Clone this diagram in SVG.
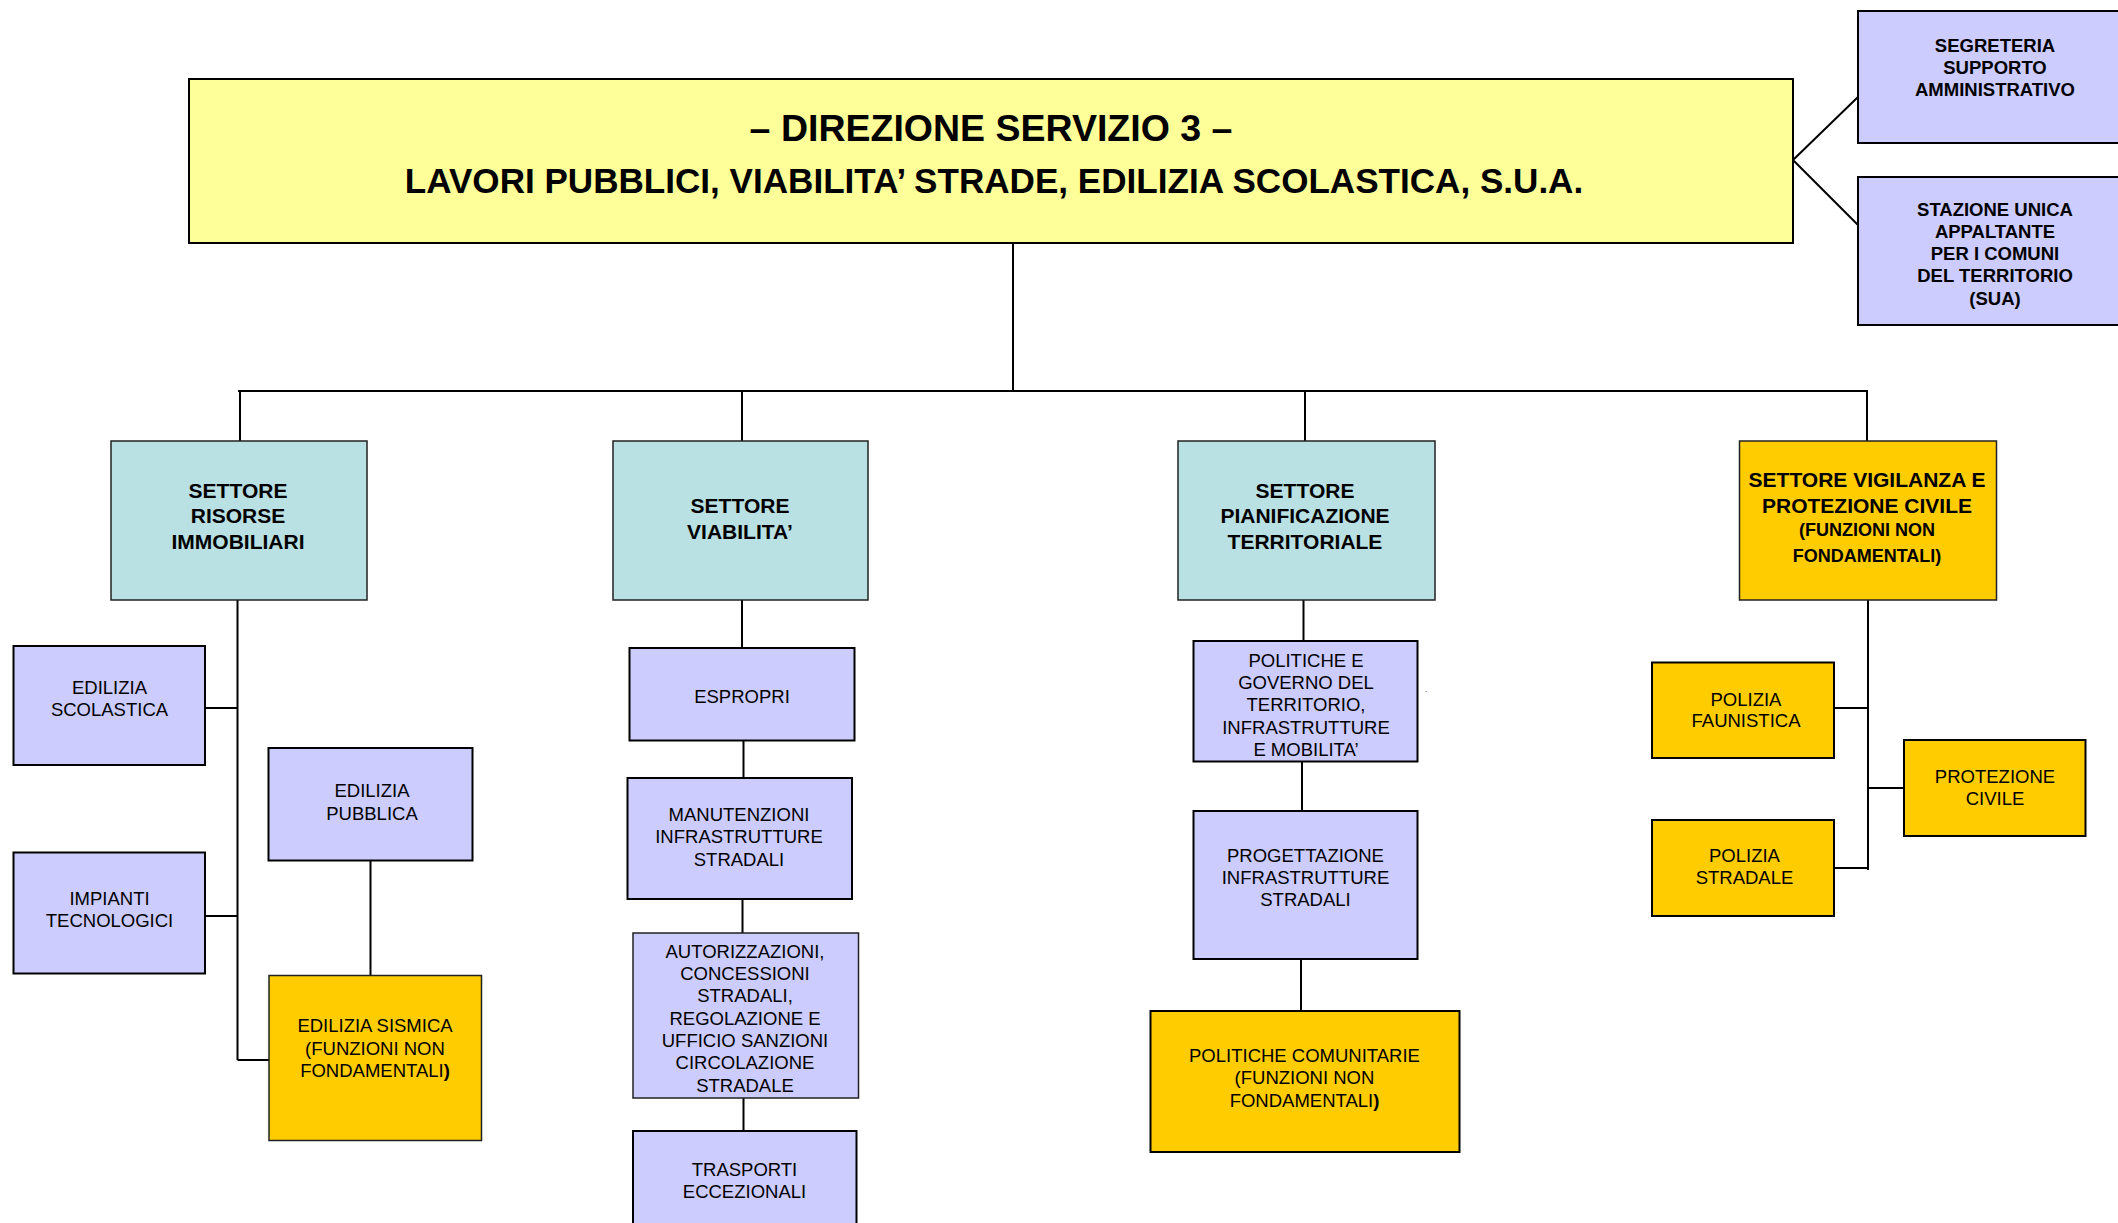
<svg xmlns="http://www.w3.org/2000/svg" width="2118" height="1223" viewBox="0 0 2118 1223">
<style>
.box{stroke:#000;stroke-width:2}
.sec{stroke:#222;stroke-width:1.5}
.y{fill:#FFFF99}
.l{fill:#CCCCFF}
.t{fill:#B9E0E3}
.o{fill:#FFCC00}
text{font-family:"Liberation Sans",Arial,sans-serif;fill:#000;text-anchor:middle}
.b{font-weight:bold}
.s{font-size:18.5px}
.m{font-size:21px;font-weight:bold}
.c{stroke:#000;stroke-width:2;fill:none}
</style>
<rect width="2118" height="1223" fill="#fff"/>
<g id="connectors">
<path class="c" d="M1013 243V391M238 391H1868M240 391V441M742 391V441M1305 391V441M1867 391V441"/>
<path class="c" d="M1793 160L1858 97M1793 160L1858 225"/>
<path class="c" d="M237.5 600V1060M205 708H237.5M205 916H237.5M237.5 1060H269M370.5 861V976"/>
<path class="c" d="M742 600V648M743.5 741V778M742.5 899V933M743.5 1098V1131"/>
<path class="c" d="M1303.5 600V641M1302 761V811M1301 959V1011"/>
<path class="c" d="M1868 600V870M1834 708H1868M1834 868H1868M1868 788H1904"/>
</g>
<g id="main">
<rect class="box y" x="189" y="79" width="1604" height="164" stroke-width="2"/>
<text class="b" x="991" y="140.5" font-size="37.5">– DIREZIONE SERVIZIO 3 –</text>
<text class="b" x="994" y="193" font-size="35.1">LAVORI PUBBLICI, VIABILITA’ STRADE, EDILIZIA SCOLASTICA, S.U.A.</text>
</g>
<g id="segreteria">
<rect class="box l" x="1858" y="11" width="262" height="132"/>
<text class="b" font-size="18.5" x="1995" y="52">SEGRETERIA</text>
<text class="b" font-size="18.5" x="1995" y="74">SUPPORTO</text>
<text class="b" font-size="18.5" x="1995" y="96">AMMINISTRATIVO</text>
</g>
<g id="sua">
<rect class="box l" x="1858" y="177" width="262" height="148"/>
<text class="b" font-size="18.5" x="1995" y="215.5">STAZIONE UNICA</text>
<text class="b" font-size="18.5" x="1995" y="237.5">APPALTANTE</text>
<text class="b" font-size="18.5" x="1995" y="260">PER I COMUNI</text>
<text class="b" font-size="18.5" x="1995" y="282">DEL TERRITORIO</text>
<text class="b" font-size="18.5" x="1995" y="304.5">(SUA)</text>
</g>
<g id="settore-risorse">
<rect class="sec t" x="111" y="441" width="256" height="159"/>
<text class="m" x="238" y="497.5">SETTORE</text>
<text class="m" x="238" y="523">RISORSE</text>
<text class="m" x="238" y="548.5">IMMOBILIARI</text>
</g>
<g id="settore-viabilita">
<rect class="sec t" x="613" y="441" width="255" height="159"/>
<text class="m" x="740" y="513">SETTORE</text>
<text class="m" x="740" y="538.5">VIABILITA’</text>
</g>
<g id="settore-pianificazione">
<rect class="sec t" x="1178" y="441" width="257" height="159"/>
<text class="m" x="1305" y="497.5">SETTORE</text>
<text class="m" x="1305" y="523">PIANIFICAZIONE</text>
<text class="m" x="1305" y="548.5">TERRITORIALE</text>
</g>
<g id="settore-vigilanza">
<rect class="sec o" x="1739.5" y="441" width="257" height="159"/>
<text class="m" x="1867" y="487">SETTORE VIGILANZA E</text>
<text class="m" x="1867" y="513">PROTEZIONE CIVILE</text>
<text class="b" font-size="18" x="1867" y="536">(FUNZIONI NON</text>
<text class="b" font-size="18" x="1867" y="561.5">FONDAMENTALI)</text>
</g>
<g id="edilizia-scolastica">
<rect class="box l" x="13.5" y="646" width="191.5" height="119"/>
<text class="s" x="109.5" y="693.5">EDILIZIA</text>
<text class="s" x="109.5" y="715.5">SCOLASTICA</text>
</g>
<g id="impianti-tecnologici">
<rect class="box l" x="13.5" y="852.5" width="191.5" height="121"/>
<text class="s" x="109.5" y="905">IMPIANTI</text>
<text class="s" x="109.5" y="927">TECNOLOGICI</text>
</g>
<g id="edilizia-pubblica">
<rect class="box l" x="268.5" y="748" width="204" height="112.5"/>
<text class="s" x="372" y="797">EDILIZIA</text>
<text class="s" x="372" y="820">PUBBLICA</text>
</g>
<g id="edilizia-sismica">
<rect class="sec o" x="269" y="975.5" width="212.5" height="165"/>
<text class="s" x="375" y="1032">EDILIZIA SISMICA</text>
<text class="s" x="375" y="1055">(FUNZIONI NON</text>
<text class="s" x="375" y="1077">FONDAMENTALI<tspan class="b">)</tspan></text>
</g>
<g id="espropri">
<rect class="box l" x="629.5" y="648" width="225" height="92.5"/>
<text class="s" x="742" y="702.5">ESPROPRI</text>
</g>
<g id="manutenzioni">
<rect class="box l" x="627.5" y="778" width="224.5" height="121"/>
<text class="s" x="739" y="820.5">MANUTENZIONI</text>
<text class="s" x="739" y="843">INFRASTRUTTURE</text>
<text class="s" x="739" y="865.5">STRADALI</text>
</g>
<g id="autorizzazioni">
<rect class="sec l" x="633" y="933" width="225.5" height="165"/>
<text class="s" x="745" y="957.5">AUTORIZZAZIONI,</text>
<text class="s" x="745" y="980">CONCESSIONI</text>
<text class="s" x="745" y="1002">STRADALI,</text>
<text class="s" x="745" y="1024.5">REGOLAZIONE E</text>
<text class="s" x="745" y="1046.5">UFFICIO SANZIONI</text>
<text class="s" x="745" y="1069">CIRCOLAZIONE</text>
<text class="s" x="745" y="1091.5">STRADALE</text>
</g>
<g id="trasporti">
<rect class="box l" x="633" y="1131" width="223.5" height="110"/>
<text class="s" x="744.5" y="1176">TRASPORTI</text>
<text class="s" x="744.5" y="1198">ECCEZIONALI</text>
</g>
<g id="politiche-governo">
<rect class="box l" x="1193.5" y="641" width="224" height="120.5"/>
<text class="s" x="1306" y="666.5">POLITICHE E</text>
<text class="s" x="1306" y="688.5">GOVERNO DEL</text>
<text class="s" x="1306" y="711">TERRITORIO,</text>
<text class="s" x="1306" y="733.5">INFRASTRUTTURE</text>
<text class="s" x="1306" y="755.5">E MOBILITA’</text>
<text x="1426" y="692" font-size="8">.</text>
</g>
<g id="progettazione">
<rect class="box l" x="1193.5" y="811" width="224" height="148"/>
<text class="s" x="1305.5" y="861.5">PROGETTAZIONE</text>
<text class="s" x="1305.5" y="883.5">INFRASTRUTTURE</text>
<text class="s" x="1305.5" y="906">STRADALI</text>
</g>
<g id="politiche-comunitarie">
<rect class="box o" x="1150.5" y="1011" width="309" height="141"/>
<text class="s" x="1304.5" y="1061.5">POLITICHE COMUNITARIE</text>
<text class="s" x="1304.5" y="1084">(FUNZIONI NON</text>
<text class="s" x="1304.5" y="1106.5">FONDAMENTALI<tspan class="b">)</tspan></text>
</g>
<g id="polizia-faunistica">
<rect class="box o" x="1652" y="662.5" width="182" height="95.5"/>
<text class="s" x="1746" y="705.5">POLIZIA</text>
<text class="s" x="1746" y="727">FAUNISTICA</text>
</g>
<g id="polizia-stradale">
<rect class="box o" x="1652" y="820" width="182" height="96"/>
<text class="s" x="1744.5" y="861.5">POLIZIA</text>
<text class="s" x="1744.5" y="883.5">STRADALE</text>
</g>
<g id="protezione-civile">
<rect class="box o" x="1904" y="740" width="181.5" height="96"/>
<text class="s" x="1995" y="783">PROTEZIONE</text>
<text class="s" x="1995" y="804.5">CIVILE</text>
</g>
</svg>
